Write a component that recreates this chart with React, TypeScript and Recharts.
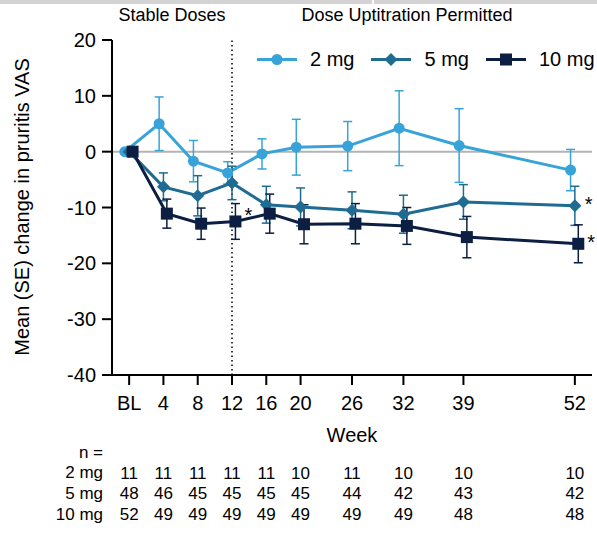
import React from "react";
import { LineChart, Line, XAxis, YAxis, ErrorBar, ReferenceLine } from "recharts";

// weeks on the x axis, BL = week 0
const weeks = [0, 4, 8, 12, 16, 20, 26, 32, 39, 52];
const weekLabels = ["BL", "4", "8", "12", "16", "20", "26", "32", "39", "52"];
const yTicks = [-40, -30, -20, -10, 0, 10, 20];

// mean change and SE per dose
const mean2 = [0, 5.0, -1.7, -3.8, -0.4, 0.8, 1.0, 4.2, 1.1, -3.3];
const se2 = [0, 4.8, 3.7, 2.0, 2.7, 5.0, 4.4, 6.7, 6.6, 3.7];
const mean5 = [0, -6.3, -7.9, -5.6, -9.5, -9.9, -10.5, -11.2, -9.0, -9.7];
const se5 = [0, 2.5, 3.6, 3.0, 3.3, 3.4, 3.3, 3.4, 3.1, 3.5];
const mean10 = [0, -11.1, -12.9, -12.5, -11.1, -13.0, -12.9, -13.3, -15.3, -16.5];
const se10 = [0, 2.6, 2.8, 3.2, 3.5, 3.5, 3.6, 3.3, 3.7, 3.4];

// patients per visit
const n2 = [11, 11, 11, 11, 11, 10, 11, 10, 10, 10];
const n5 = [48, 46, 45, 45, 45, 45, 44, 42, 43, 42];
const n10 = [52, 49, 49, 49, 49, 49, 49, 49, 48, 48];

// weeks flagged with an asterisk
const star5 = [52];
const star10 = [12, 52];

const C2 = "#37a3d9";
const C5 = "#1f6b92";
const C10 = "#0c1e42";
const FONT = "'Liberation Sans', Arial, sans-serif";

// small horizontal nudge so the markers don't sit on top of each other
const rows = (mean: number[], se: number[], nudge: number) =>
  weeks.map((w, i) => ({ week: w + nudge, mean: mean[i], se: se[i] }));

// hidden data for the n = table axes
const tableRows = weeks.map((w) => ({ week: w, v: 0 }));

const Marker = ({ kind, cx, cy, color }: any) => {
  if (kind === "circle") return <circle cx={cx} cy={cy} r={5.5} fill={color} />;
  if (kind === "diamond")
    return (
      <polygon
        points={`${cx},${cy - 6.5} ${cx + 6.5},${cy} ${cx},${cy + 6.5} ${cx - 6.5},${cy}`}
        fill={color}
      />
    );
  return <rect x={cx - 6} y={cy - 6} width={12} height={12} fill={color} />;
};

const dot = (kind: string, color: string) => (p: any) =>
  <Marker key={`${kind}-${p.index}`} kind={kind} cx={p.cx} cy={p.cy} color={color} />;

const star = (flagged: number[], dx: number) => (p: any) => {
  if (!flagged.includes(weeks[p.index])) return null;
  // the week-12 star sits a little higher than the week-52 ones
  const dy = weeks[p.index] === 12 ? 1 : 5;
  return (
    <text key={`s-${p.index}`} x={p.x + dx} y={p.y + dy} fontSize={20} fill="#000" fontFamily={FONT}>
      *
    </text>
  );
};

const legendItems = [
  { name: "2 mg", color: C2, kind: "circle" },
  { name: "5 mg", color: C5, kind: "diamond" },
  { name: "10 mg", color: C10, kind: "square" },
];

const abs = (style: React.CSSProperties): React.CSSProperties => ({
  position: "absolute",
  whiteSpace: "nowrap",
  fontFamily: FONT,
  color: "#000",
  ...style,
});

export default function App() {
  const tickStyle = { fill: "#000", fontSize: 20, fontFamily: FONT };
  const nStyle = { fill: "#000", fontSize: 17, fontFamily: FONT };
  return (
    <div style={{ position: "absolute", left: 0, top: 0, width: 597, height: 533, background: "#fff" }}>
      <div style={abs({ left: 0, top: 0, width: 597, height: 4, background: "#d3d3d3" })} />
      <div style={abs({ left: 372, top: 0, width: 2, height: 4, background: "#fff" })} />
      <div style={abs({ left: 172, top: 15, fontSize: 18, transform: "translate(-50%,-50%)" })}>Stable Doses</div>
      <div style={abs({ left: 407, top: 15, fontSize: 18, transform: "translate(-50%,-50%)" })}>
        Dose Uptitration Permitted
      </div>
      <div style={abs({ left: 22, top: 207, fontSize: 20, transform: "translate(-50%,-50%) rotate(-90deg)" })}>
        Mean (SE) change in pruritis VAS
      </div>
      <div style={abs({ right: 597 - 103, top: 453, fontSize: 17, transform: "translateY(-50%)" })}>n =</div>
      <div style={abs({ right: 597 - 103, top: 473, fontSize: 17, transform: "translateY(-50%)" })}>2 mg</div>
      <div style={abs({ right: 597 - 103, top: 494, fontSize: 17, transform: "translateY(-50%)" })}>5 mg</div>
      <div style={abs({ right: 597 - 103, top: 515, fontSize: 17, transform: "translateY(-50%)" })}>10 mg</div>

      {/* legend */}
      <div style={abs({ left: 257, top: 59, transform: "translateY(-50%)", display: "flex", alignItems: "center", fontSize: 20, zIndex: 2 })}>
        {legendItems.map((it) => (
          <div key={it.name} style={{ display: "flex", alignItems: "center", marginRight: 17 }}>
            <svg width={40} height={16} style={{ marginRight: 13 }}>
              <line x1={0} y1={8} x2={40} y2={8} stroke={it.color} strokeWidth={3} />
              <Marker kind={it.kind} cx={20} cy={8} color={it.color} />
            </svg>
            <span>{it.name}</span>
          </div>
        ))}
      </div>

      <LineChart width={597} height={533} margin={{ top: 40, right: 5, bottom: 0, left: 0 }}>
        <XAxis
          xAxisId="main"
          type="number"
          dataKey="week"
          domain={[-2, 54]}
          allowDataOverflow
          ticks={weeks}
          interval={0}
          tickFormatter={(w: number) => weekLabels[weeks.indexOf(w)]}
          height={92}
          tickSize={10}
          tickMargin={11}
          tick={tickStyle}
          stroke="#000"
          strokeWidth={2}
          label={{ value: "Week", position: "insideBottom", offset: 25, fill: "#000", fontSize: 20, fontFamily: FONT }}
        />
        {[n2, n5, n10].map((n, k) => (
          <XAxis
            key={`n${k}`}
            xAxisId={`n${k}`}
            type="number"
            dataKey="week"
            domain={[-2, 54]}
            allowDataOverflow
            ticks={weeks}
            interval={0}
            tickFormatter={(w: number) => String(n[weeks.indexOf(w)])}
            height={k === 2 ? 25 : k === 1 ? 21 : 20}
            axisLine={false}
            tickLine={false}
            tickSize={0}
            tickMargin={0}
            tick={nStyle}
          />
        ))}
        <YAxis
          type="number"
          domain={[-40, 20]}
          ticks={yTicks}
          interval={0}
          width={112}
          tickSize={10}
          tickMargin={6}
          tick={tickStyle}
          stroke="#000"
          strokeWidth={2}
        />
        {[0, 1, 2].map((k) => (
          <Line
            key={`hidden${k}`}
            xAxisId={`n${k}`}
            data={tableRows}
            dataKey="v"
            stroke="none"
            dot={false}
            activeDot={false}
            legendType="none"
            isAnimationActive={false}
          />
        ))}
        <ReferenceLine xAxisId="main" y={0} stroke="#b3b3b3" strokeWidth={2} />
        <ReferenceLine xAxisId="main" x={12} stroke="#000" strokeWidth={1.5} strokeDasharray="1.5 3" />
        <Line
          xAxisId="main"
          data={rows(mean2, se2, -0.5)}
          dataKey="mean"
          name="2 mg"
          stroke={C2}
          strokeWidth={3}
          dot={dot("circle", C2)}
          activeDot={false}
          isAnimationActive={false}
        >
          <ErrorBar dataKey="se" direction="y" width={4.5} stroke={C2} strokeWidth={1.5} />
        </Line>
        <Line
          xAxisId="main"
          data={rows(mean5, se5, 0)}
          dataKey="mean"
          name="5 mg"
          stroke={C5}
          strokeWidth={3}
          dot={dot("diamond", C5)}
          activeDot={false}
          label={star(star5, 10)}
          isAnimationActive={false}
        >
          <ErrorBar dataKey="se" direction="y" width={4.5} stroke={C5} strokeWidth={1.5} />
        </Line>
        <Line
          xAxisId="main"
          data={rows(mean10, se10, 0.4)}
          dataKey="mean"
          name="10 mg"
          stroke={C10}
          strokeWidth={3}
          dot={dot("square", C10)}
          activeDot={false}
          label={star(star10, 9)}
          isAnimationActive={false}
        >
          <ErrorBar dataKey="se" direction="y" width={4.5} stroke={C10} strokeWidth={1.5} />
        </Line>
      </LineChart>
    </div>
  );
}
